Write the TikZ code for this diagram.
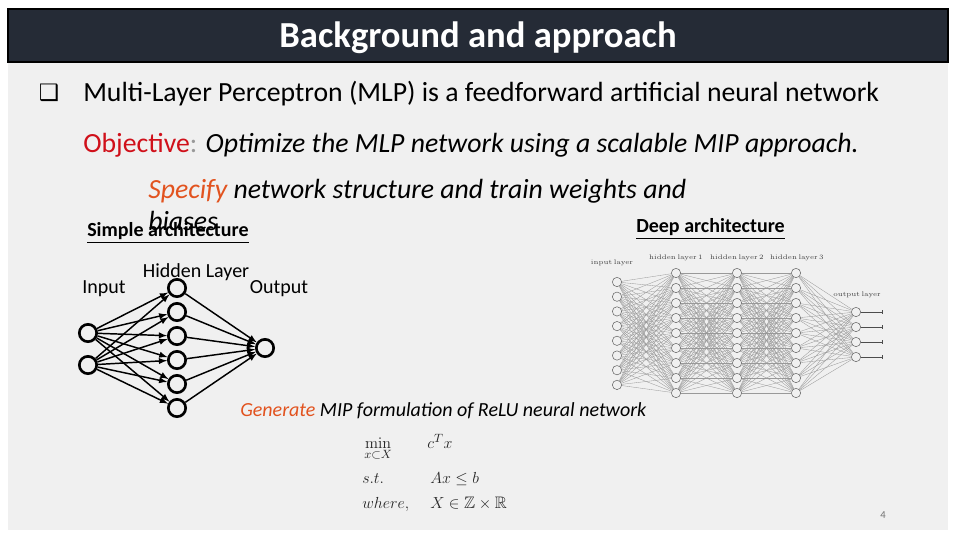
\documentclass[tikz,border=0pt]{standalone}
\usepackage[no-math]{fontspec}
\usepackage{amssymb}
\setmainfont{Carlito}
\newfontfamily\dejavu{DejaVu Sans}
\usetikzlibrary{arrows.meta}

\definecolor{barcol}{HTML}{252B36}
\definecolor{slidecol}{HTML}{F0F0F0}
\definecolor{objred}{HTML}{D0101A}
\definecolor{actorange}{HTML}{E2531F}

\begin{document}
\begin{tikzpicture}[x=0.75pt, y=-0.75pt,
	txt/.style={anchor=base west, inner sep=0pt},
	bigtxt/.style={txt, font=\fontsize{20.8}{24}\selectfont},
	neuron/.style={draw, circle, line width=2pt, minimum size=13pt, inner sep=0pt},
	link/.style={line width=1.1pt, -latex},
	dnode/.style={draw=black!60, fill=slidecol, circle, line width=0.4pt, minimum size=7pt, inner sep=0pt},
	dlink/.style={black!40, line width=0.25pt},
	dlabel/.style={black!75, font=\fontsize{5}{6}\selectfont},
	netlabel/.style={font=\fontsize{15}{17}\selectfont},
	archlabel/.style={txt, font=\fontsize{15}{17}\selectfont\bfseries},
	formula/.style={txt, black!85, font=\fontsize{12.5}{15}\selectfont}]
	
	\useasboundingbox (0,0) rectangle (960,540);
	
	% Slide
	\fill[white] (0,0) rectangle (960,540);
	\fill[slidecol] (8,9) rectangle (948,530);
	\draw[fill=barcol, line width=0.8pt] (8,9) rectangle (948,62);
	\node[white, font=\fontsize{27.5}{32}\selectfont\bfseries] (title) at (478,38) {Background and approach};
	
	% Text
	\node[font=\dejavu\fontsize{17}{20}\selectfont] (bullet) at (49,93) {❑};
	\node[bigtxt] (mlp) at (83,101)
		{Multi-Layer Perceptron (MLP) is a feedforward artificial neural network};
	\node[bigtxt] (objective) at (83,152)
		{\textcolor{objred}{Objective}\textcolor{black!40}{:} \textit{Optimize the MLP network using a scalable MIP approach.}};
	\node[bigtxt, font=\fontsize{20.8}{24}\selectfont\itshape] (specify) at (148,198)
		{\textcolor{actorange}{Specify} network structure and train weights and};
	\node[bigtxt, font=\fontsize{20.8}{24}\selectfont\itshape] (biases) at (148,230) {biases};
	\node[archlabel] (simplearch) at (87,236) {\underline{Simple architecture}};
	\node[archlabel] (deeparch) at (636,232) {\underline{Deep architecture}};
	
	% Simple network
	\foreach \i/\y in {1/333, 2/365}
		\node[neuron] (in\i) at (88,\y) {};
	\foreach \j in {1,...,6}
		\node[neuron] (hid\j) at (177,{264+24*\j}) {};
	\node[neuron] (outp) at (265,348) {};
	\foreach \i in {1,2}{
		\foreach \j in {1,...,6}{
			\draw[link] (in\i) -- (hid\j);
		}
	}
	\foreach \j in {1,...,6}
		\draw[link] (hid\j) -- (outp);
	\node[netlabel] (inlabel) at (104,289) {Input};
	\node[netlabel] (hidlabel) at (196,272) {Hidden Layer};
	\node[netlabel] (outlabel) at (279,289) {Output};
	
	% Deep network
	\foreach \i in {1,...,8}
		\node[dnode] (di\i) at (617,{267.3+14.7*\i}) {};
	\foreach \l/\x in {a/676, b/737, c/796}{
		\foreach \j in {1,...,9}{
			\node[dnode] (dh\l\j) at (\x,{258+15*\j}) {};
		}
	}
	\foreach \k in {1,...,4}{
		\node[dnode] (do\k) at (856,{297+15*\k}) {};
		\coordinate (dend\k) at (882,{297+15*\k});
	}
	\foreach \i in {1,...,8}{
		\foreach \j in {1,...,9}{
			\draw[dlink] (di\i) -- (dha\j);
		}
	}
	\foreach \i in {1,...,9}{
		\foreach \j in {1,...,9}{
			\draw[dlink] (dha\i) -- (dhb\j);
			\draw[dlink] (dhb\i) -- (dhc\j);
		}
		\foreach \k in {1,...,4}{
			\draw[dlink] (dhc\i) -- (do\k);
		}
	}
	\foreach \k in {1,...,4}
		\draw[dlink, black!70, -{Bar[width=3pt]}] (do\k) -- (dend\k);
	\node[dlabel] (dinlabel) at (612,263) {$\mathrm{input\ layer}$};
	\node[dlabel] (dhalabel) at (676,258) {$\mathrm{hidden\ layer\ 1}$};
	\node[dlabel] (dhblabel) at (737,258) {$\mathrm{hidden\ layer\ 2}$};
	\node[dlabel] (dhclabel) at (797,258) {$\mathrm{hidden\ layer\ 3}$};
	\node[dlabel] (doutlabel) at (857,295) {$\mathrm{output\ layer}$};
	
	% Formulation
	\node[txt, font=\fontsize{15}{18}\selectfont\itshape] (generate) at (240,416)
		{\textcolor{actorange}{Generate} MIP formulation of ReLU neural network};
	\node[formula] (minop) at (364,448) {$\min\limits_{x\subset X}$};
	\node[formula] (objfn) at (427,448) {$c^Tx$};
	\node[formula] (st) at (362,483) {$s.t.$};
	\node[formula] (cons) at (430,483) {$Ax\le b$};
	\node[formula] (where) at (362,508) {$where,$};
	\node[formula] (dom) at (430,508) {$X\in\mathbb{Z}\times\mathbb{R}$};
	
	% Page number
	\node[black!55, font=\fontsize{8}{9}\selectfont] (pagenum) at (883,515) {4};
	
\end{tikzpicture}
\end{document}
